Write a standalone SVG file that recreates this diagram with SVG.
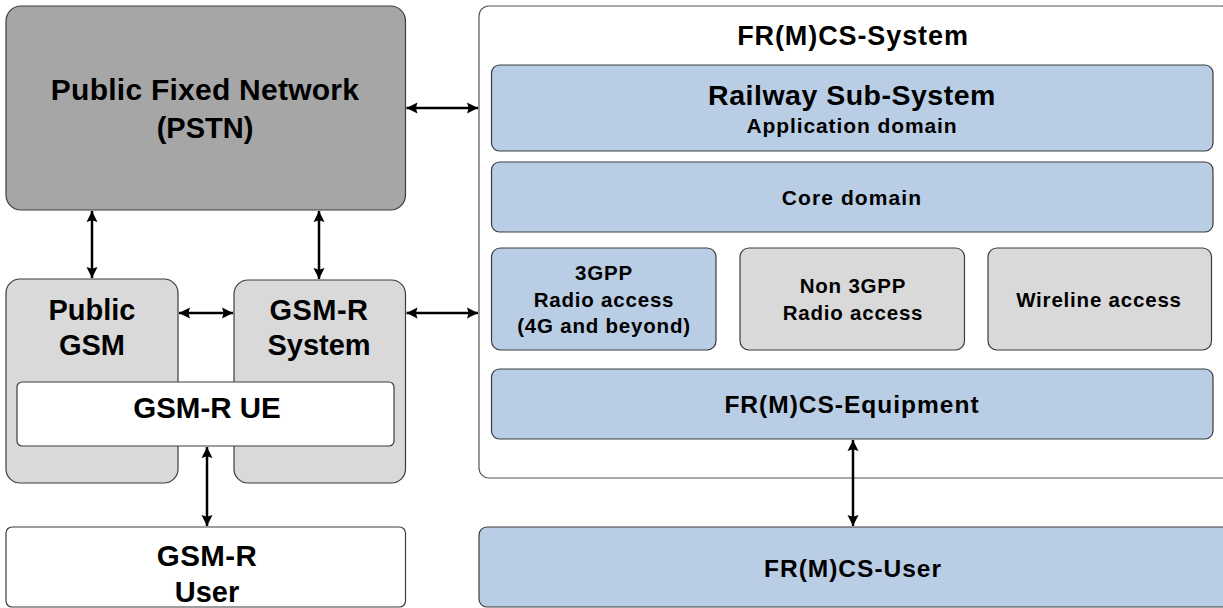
<svg xmlns="http://www.w3.org/2000/svg" width="1223" height="608" viewBox="0 0 1223 608">
<style>
  .box { stroke: #3c3c3c; stroke-width: 1.2; }
  .dark { fill: #a6a6a6; }
  .grey { fill: #d9d9d9; }
  .blue { fill: #b9cde5; }
  .white { fill: #ffffff; }
  text { font-family: "Liberation Sans", Arial, sans-serif; font-weight: bold; fill: #000; text-anchor: middle; }
  .big { font-size: 29px; }
  .small { font-size: 20.5px; letter-spacing: 0.8px; }
  .mid { font-size: 24.5px; letter-spacing: 1px; }
  .conn { stroke: #000; stroke-width: 2.5; fill: none; marker-start: url(#ah); marker-end: url(#ah); }
</style>
<defs>
  <marker id="ah" viewBox="0 0 10 10" refX="10" refY="5" markerWidth="4.4" markerHeight="4.6" orient="auto-start-reverse" markerUnits="strokeWidth">
    <path d="M0,0 L10,5 L0,10 L1.5,5 z" fill="#000"/>
  </marker>
</defs>
<rect width="1223" height="608" fill="#fff"/>

<g id="pstn">
  <rect class="box dark" x="6" y="6" width="399.5" height="204" rx="15"/>
  <text x="205" y="100" font-size="30" letter-spacing="0.25">Public Fixed Network</text>
  <text x="205" y="138" font-size="29">(PSTN)</text>
</g>

<g id="public-gsm">
  <rect class="box grey" x="6" y="279" width="172" height="204" rx="14"/>
  <text class="big" x="92" y="320">Public</text>
  <text class="big" x="92" y="355">GSM</text>
</g>

<g id="gsmr-system">
  <rect class="box grey" x="234" y="280" width="171.5" height="203" rx="14"/>
  <text class="big" x="319" y="320" letter-spacing="0.5">GSM-R</text>
  <text class="big" x="319" y="355">System</text>
</g>

<g id="gsmr-ue">
  <rect class="box white" x="17" y="382" width="377" height="64" rx="5"/>
  <text x="207" y="418" font-size="29.5">GSM-R UE</text>
</g>

<g id="gsmr-user">
  <rect class="box white" x="6" y="527" width="399.5" height="80" rx="6"/>
  <text x="207" y="566" font-size="29.5" letter-spacing="0.4">GSM-R</text>
  <text x="207" y="602" font-size="29">User</text>
</g>

<g id="frmcs-system">
  <rect x="479" y="6" width="752" height="472" rx="10" fill="#fff" stroke="#555" stroke-width="1.2"/>
  <text x="853" y="45" font-size="27" letter-spacing="0.9">FR(M)CS-System</text>
</g>

<g id="railway">
  <rect class="box blue" x="491.5" y="65" width="721.5" height="86" rx="8"/>
  <text x="852" y="105" font-size="28.5" letter-spacing="0.5">Railway Sub-System</text>
  <text x="852" y="133" font-size="21" letter-spacing="0.9">Application domain</text>
</g>

<g id="core">
  <rect class="box blue" x="491.5" y="162" width="721.5" height="70" rx="8"/>
  <text x="852" y="205" font-size="21" letter-spacing="1.1">Core domain</text>
</g>

<g id="access-3gpp">
  <rect class="box blue" x="491.5" y="248" width="224.5" height="102" rx="9"/>
  <text class="small" x="604" y="280">3GPP</text>
  <text class="small" x="604" y="307">Radio access</text>
  <text class="small" x="604" y="333">(4G and beyond)</text>
</g>

<g id="access-non3gpp">
  <rect class="box grey" x="740" y="248" width="224.5" height="102" rx="9"/>
  <text class="small" x="853" y="293">Non 3GPP</text>
  <text class="small" x="853" y="320">Radio access</text>
</g>

<g id="access-wireline">
  <rect class="box grey" x="988" y="248" width="223.5" height="102" rx="9"/>
  <text class="small" x="1099" y="307">Wireline access</text>
</g>

<g id="frmcs-equipment">
  <rect class="box blue" x="491.5" y="369" width="721.5" height="70" rx="8"/>
  <text class="mid" x="852" y="413">FR(M)CS-Equipment</text>
</g>

<g id="frmcs-user">
  <rect class="box blue" x="479" y="527" width="752" height="80" rx="8"/>
  <text class="mid" x="853" y="577">FR(M)CS-User</text>
</g>

<g id="connectors">
  <line class="conn" x1="406.5" y1="108" x2="478" y2="108"/>
  <line class="conn" x1="92" y1="211" x2="92" y2="278"/>
  <line class="conn" x1="319" y1="211" x2="319" y2="279"/>
  <line class="conn" x1="179" y1="313" x2="233" y2="313"/>
  <line class="conn" x1="406.5" y1="313" x2="478" y2="313"/>
  <line class="conn" x1="207" y1="447" x2="207" y2="526"/>
  <line class="conn" x1="853" y1="440" x2="853" y2="526"/>
</g>
</svg>
